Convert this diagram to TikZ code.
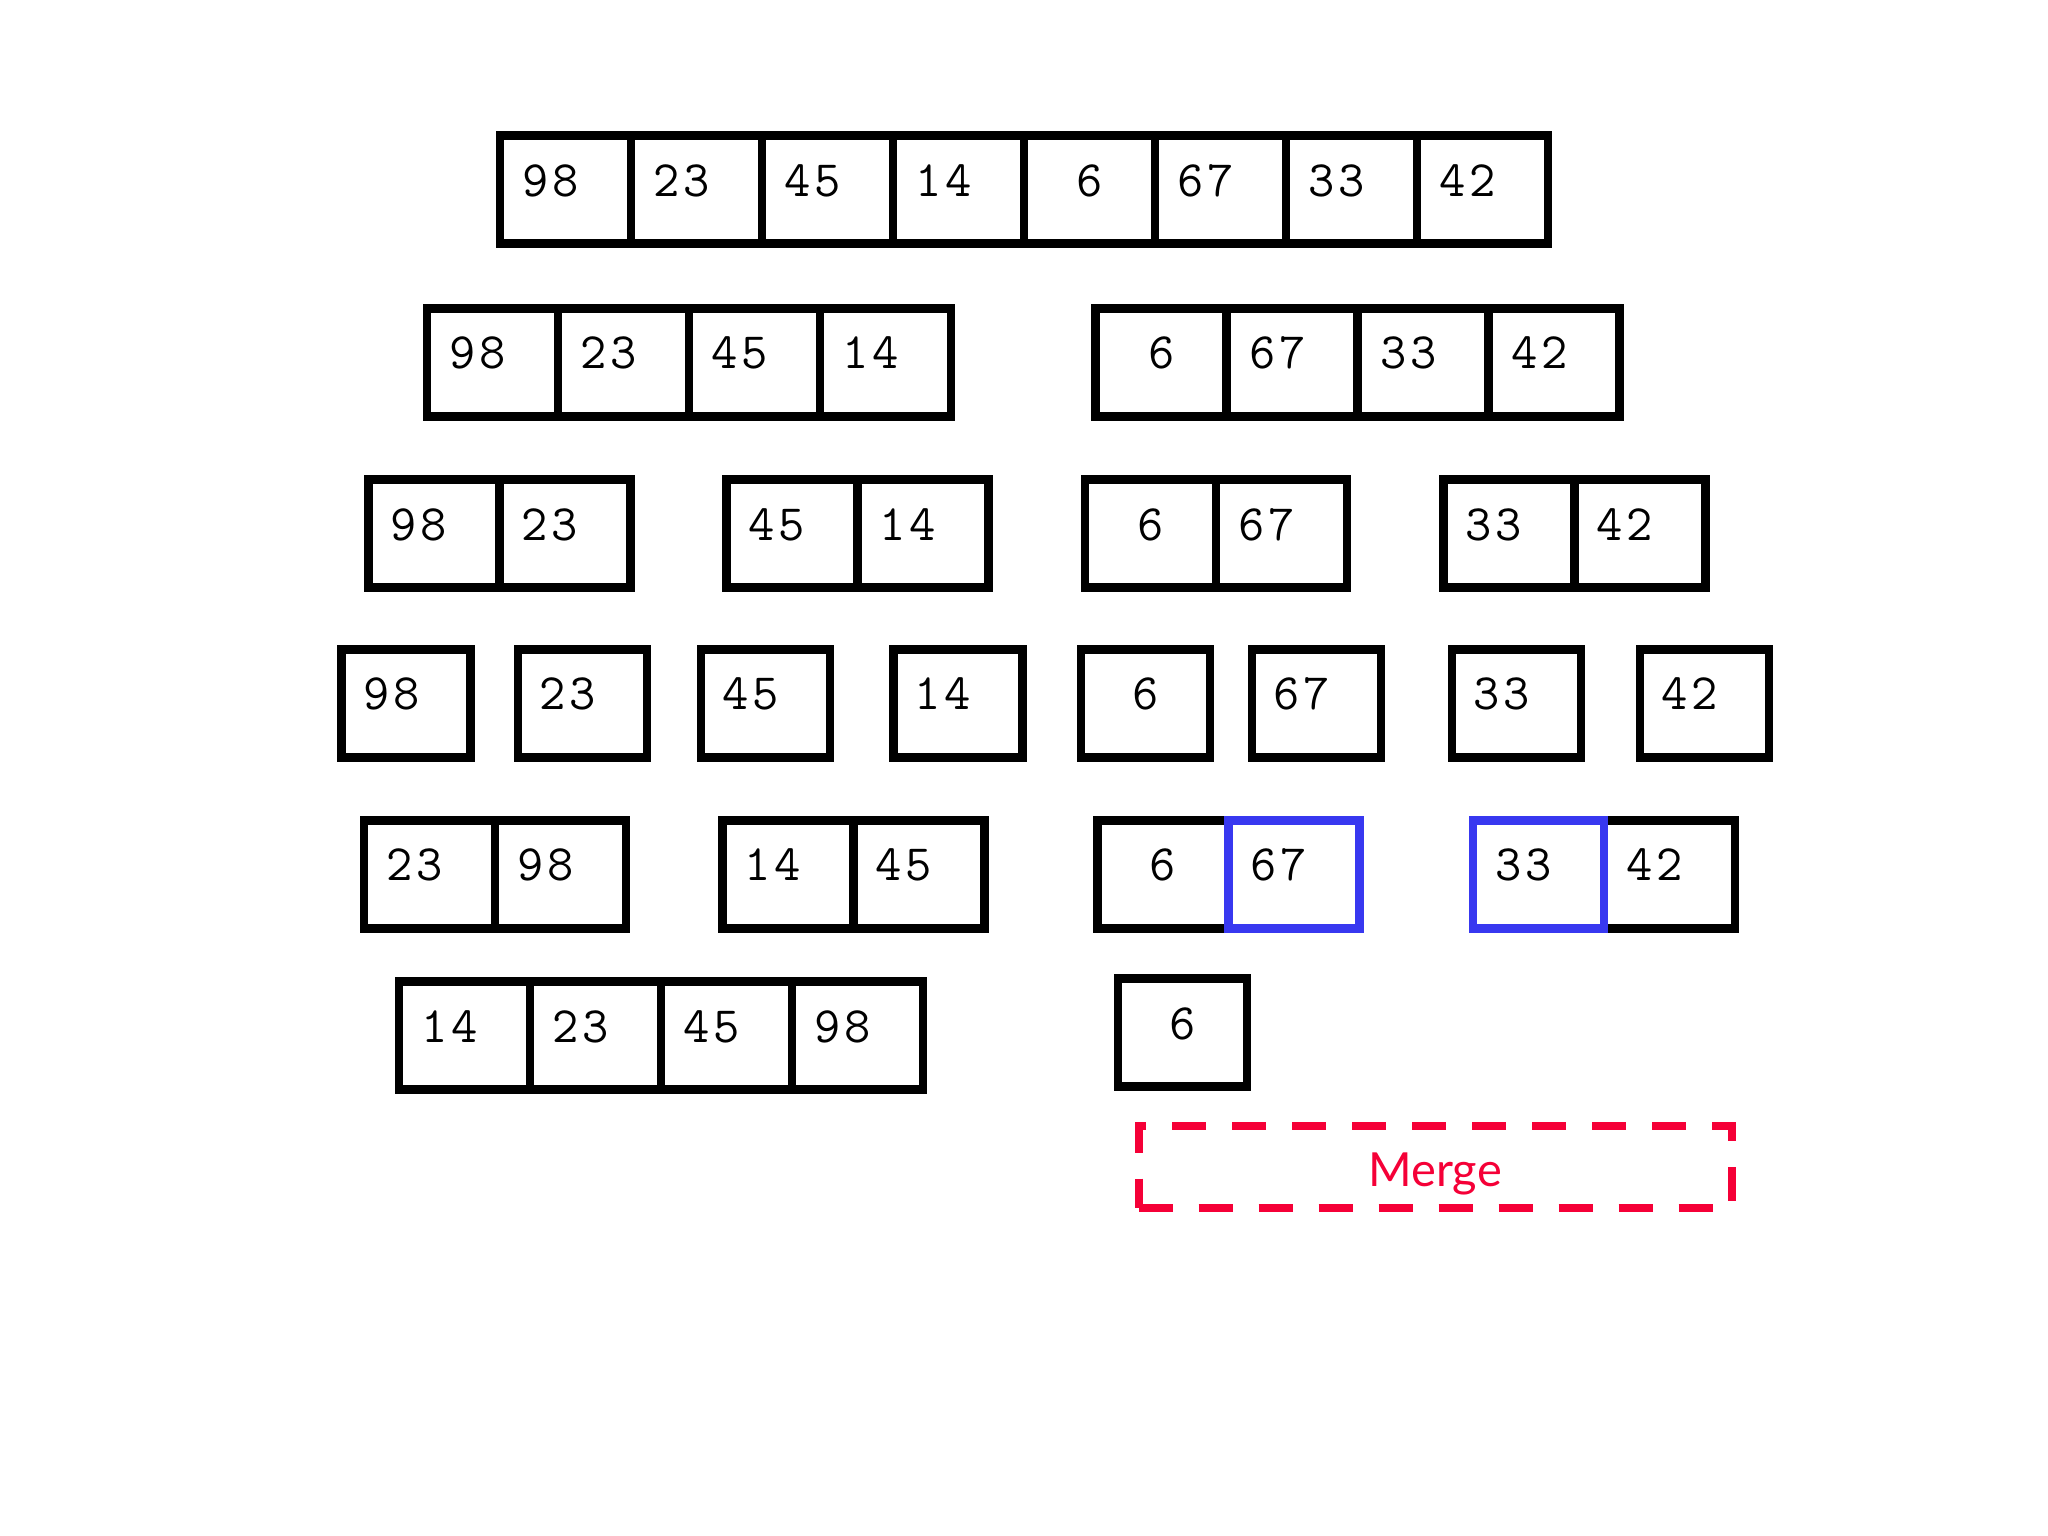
\documentclass[tikz,border=0pt]{standalone}
\usepackage{fontspec}
\newfontfamily\latofont{Lato}
\definecolor{cellblue}{RGB}{56,56,240}
\definecolor{mergered}{RGB}{245,0,55}
\newcommand{\tw}[2]{\raisebox{-6.5pt}{\makebox[30pt]{#1}\makebox[30pt]{#2}\makebox[30pt]{}}}
\newcommand{\one}[1]{\raisebox{-6.5pt}{\makebox[30pt]{#1}}}
\tikzset{
  cell/.style={draw=black, line width=8.5pt, minimum width=131pt, minimum height=108pt,
    inner sep=0pt, text height=0pt, text depth=0pt, font=\fontsize{51}{51}\selectfont\ttfamily},
  single/.style={cell, minimum width=129pt},
  hl/.style={draw=cellblue},
  mergebox/.style={draw=mergered, line width=8pt, dash pattern=on 34pt off 26pt,
    minimum width=593pt, minimum height=81.5pt, inner sep=0pt, text height=0pt, text depth=0pt,
    text=mergered, font=\fontsize{47}{47}\selectfont\latofont},
}
\begin{document}
\begin{tikzpicture}[x=1pt,y=-1pt]
\useasboundingbox[fill=white] (0,0) rectangle (2048,1536);
% Row 1
\node[cell] (r1a) at (565.5,189.5) {\tw98};
\node[cell] (r1b) at (696.5,189.5) {\tw23};
\node[cell] (r1c) at (827.5,189.5) {\tw45};
\node[cell] (r1d) at (958.5,189.5) {\tw14};
\node[cell] (r1e) at (1089.5,189.5) {\one{6}};
\node[cell] (r1f) at (1220.5,189.5) {\tw67};
\node[cell] (r1g) at (1351.5,189.5) {\tw33};
\node[cell] (r1h) at (1482.5,189.5) {\tw42};
% Row 2
\node[cell] (r2a) at (492.5,362.4) {\tw98};
\node[cell] (r2b) at (623.5,362.4) {\tw23};
\node[cell] (r2c) at (754.5,362.4) {\tw45};
\node[cell] (r2d) at (885.5,362.4) {\tw14};
\node[cell] (r2e) at (1161.2,362.4) {\one{6}};
\node[cell] (r2f) at (1292.2,362.4) {\tw67};
\node[cell] (r2g) at (1423.2,362.4) {\tw33};
\node[cell] (r2h) at (1554.2,362.4) {\tw42};
% Row 3
\node[cell] (r3a) at (434.1,533.5) {\tw98};
\node[cell] (r3b) at (565.1,533.5) {\tw23};
\node[cell] (r3c) at (792,533.5) {\tw45};
\node[cell] (r3d) at (923,533.5) {\tw14};
\node[cell] (r3e) at (1150.5,533.5) {\one{6}};
\node[cell] (r3f) at (1281.5,533.5) {\tw67};
\node[cell] (r3g) at (1509,533.5) {\tw33};
\node[cell] (r3h) at (1640,533.5) {\tw42};
% Row 4
\node[single] (r4a) at (406.2,703.3) {\tw98};
\node[single] (r4b) at (582.5,703.3) {\tw23};
\node[single] (r4c) at (765.4,703.3) {\tw45};
\node[single] (r4d) at (958,703.3) {\tw14};
\node[single] (r4e) at (1145.5,703.3) {\one{6}};
\node[single] (r4f) at (1316.6,703.3) {\tw67};
\node[single] (r4g) at (1516.4,703.3) {\tw33};
\node[single] (r4h) at (1704.5,703.3) {\tw42};
% Row 5
\node[cell] (r5a) at (429.5,874.4) {\tw23};
\node[cell] (r5b) at (560.5,874.4) {\tw98};
\node[cell] (r5c) at (788,874.4) {\tw14};
\node[cell] (r5d) at (919,874.4) {\tw45};
\node[cell] (r5e) at (1162.9,874.4) {\one{6}};
\node[cell,hl] (r5f) at (1293.9,874.4) {\tw67};
\node[cell] (r5h) at (1669.4,874.4) {\tw42};
\node[cell,hl] (r5g) at (1538.4,874.4) {\tw33};
% Row 6
\node[cell] (r6a) at (464.4,1035.7) {\tw14};
\node[cell] (r6b) at (595.4,1035.7) {\tw23};
\node[cell] (r6c) at (726.4,1035.7) {\tw45};
\node[cell] (r6d) at (857.4,1035.7) {\tw98};
\node[single] (r6e) at (1182.7,1032.5) {\one{6}};
% Merge
\node[mergebox] (merge) at (1435.2,1166.8) {\raisebox{-20pt}{Merge}};
\end{tikzpicture}
\end{document}
